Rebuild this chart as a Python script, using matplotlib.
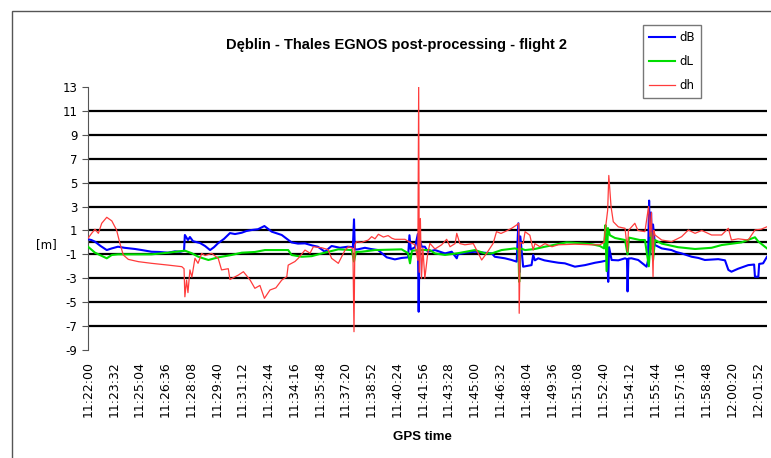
import numpy as np
import matplotlib
matplotlib.use("Agg")
import matplotlib.pyplot as plt
from matplotlib.patches import Rectangle

plt.rcParams["axes.unicode_minus"] = False

# time axis: seconds after 11:22:00, labels every 92 s
t_start = 11 * 3600 + 22 * 60
t_end = 2425
label_step = 92

# dB (blue) - breakpoints
dB_t = [0, 12, 25, 45, 67, 85, 107, 130, 168, 195, 227, 255, 286, 310, 329, 343, 346, 357,
        364, 375, 400, 418, 436, 450, 464, 486, 507, 525, 549, 565, 585, 607, 630, 656,
        692, 727, 750, 775, 800, 821, 846, 870, 900, 928, 946, 950, 953, 964, 989, 1010,
        1036, 1067, 1096, 1120, 1143, 1148, 1153, 1168, 1178, 1181, 1184, 1192, 1203,
        1214, 1239, 1275, 1299, 1317, 1321, 1350, 1382, 1410, 1442, 1453, 1489, 1513,
        1531, 1537, 1541, 1544, 1554, 1584, 1590, 1596, 1608, 1630, 1656, 1680, 1703,
        1739, 1775, 1811, 1834, 1855, 1858, 1861, 1870, 1894, 1918, 1925, 1927, 1930,
        1941, 1965, 1995, 2000, 2004, 2007, 2011, 2014, 2018, 2025, 2049, 2084, 2100,
        2120, 2156, 2180, 2203, 2251, 2275, 2287, 2298, 2322, 2358, 2379, 2382, 2394,
        2397, 2411, 2425]
dB = [0.26, 0.2, 0.06, -0.3, -0.64, -0.5, -0.36, -0.45, -0.55, -0.65, -0.78, -0.8, -0.86,
      -0.75, -0.78, -0.7, 0.62, 0.2, 0.45, 0.1, -0.05, -0.3, -0.64, -0.4, -0.08, 0.3,
      0.78, 0.7, 0.81, 0.95, 1.04, 1.1, 1.37, 0.9, 0.62, 0.0, -0.1, -0.08, -0.25, -0.36,
      -0.78, -0.3, -0.45, -0.36, -0.4, 1.93, -0.6, -0.58, -0.45, -0.55, -0.64, -1.25,
      -1.42, -1.3, -1.25, 0.6, -0.6, -0.4, 0.7, -5.8, 0.3, -0.36, -0.36, -0.78, -0.64,
      -0.92, -0.78, -1.33, -1.0, -0.85, -0.78, -0.85, -0.92, -1.2, -1.33, -1.47, -1.61,
      1.6, -2.5, 0.5, -2.03, -1.9, -1.05, -1.5, -1.33, -1.5, -1.61, -1.7, -1.75, -2.03,
      -1.9, -1.7, -1.61, -1.5, -3.3, -0.4, -1.47, -1.5, -1.33, -1.4, -4.1, -1.35, -1.33,
      -1.47, -2.03, -1.5, 3.5, -1.0, 2.5, -0.5, 1.5, -0.22, -0.5, -0.64, -0.8, -0.92,
      -1.2, -1.3, -1.47, -1.4, -1.5, -2.3, -2.45, -2.2, -1.9, -1.85, -2.87, -2.87, -1.8,
      -1.75, -1.2]

# dL (green)
dL_t = [0, 25, 67, 85, 107, 168, 227, 286, 346, 370, 394, 430, 465, 513, 549, 596, 632,
        715, 727, 763, 799, 835, 894, 942, 950, 957, 977, 1025, 1120, 1143, 1150, 1157,
        1180, 1221, 1239, 1275, 1322, 1382, 1418, 1442, 1477, 1525, 1537, 1540, 1544,
        1561, 1596, 1632, 1679, 1709, 1727, 1799, 1828, 1843, 1848, 1852, 1857, 1864,
        1882, 1918, 1927, 1932, 1971, 1989, 2003, 2011, 2018, 2025, 2049, 2107, 2168,
        2227, 2263, 2334, 2382, 2393, 2425]
dL = [-0.36, -0.86, -1.33, -1.05, -1.0, -1.0, -1.0, -0.86, -0.69, -0.9, -1.2, -1.47,
      -1.25, -1.05, -0.86, -0.8, -0.64, -0.64, -1.05, -1.2, -1.15, -0.92, -0.58, -0.64,
      -1.6, -0.8, -0.78, -0.64, -0.58, -0.9, -1.75, -0.7, -0.64, -0.64, -0.92, -1.05,
      -0.9, -0.64, -0.92, -0.92, -0.64, -0.5, -0.6, -3.3, -0.5, -0.64, -0.55, -0.36,
      -0.14, 0.0, -0.02, -0.15, -0.3, -0.5, 1.45, -2.4, 1.2, 0.6, 0.37, 0.2, -1.0, 0.4,
      0.2, 0.2, -2.0, 0.8, -1.5, 0.2, -0.1, -0.4, -0.55, -0.45, -0.22, 0.0, 0.43, 0.1,
      -0.5]

# dh (red)
dh_t = [0, 13, 25, 37, 49, 67, 85, 102, 114, 126, 144, 180, 227, 287, 335, 343, 346, 352,
        357, 364, 371, 382, 393, 406, 418, 442, 465, 477, 501, 507, 537, 555, 579, 596,
        614, 630, 650, 671, 692, 710, 715, 739, 751, 775, 793, 805, 835, 857, 870, 894,
        906, 918, 930, 946, 950, 953, 959, 977, 1001, 1013, 1025, 1037, 1055, 1072, 1085,
        1096, 1132, 1150, 1168, 1178, 1181, 1183, 1187, 1191, 1196, 1203, 1213, 1221,
        1239, 1263, 1281, 1293, 1311, 1317, 1328, 1346, 1376, 1388, 1406, 1424, 1447,
        1459, 1475, 1489, 1513, 1531, 1538, 1540, 1544, 1554, 1561, 1578, 1590, 1596,
        1614, 1632, 1657, 1679, 1739, 1799, 1828, 1843, 1846, 1856, 1860, 1868, 1876,
        1894, 1918, 1927, 1930, 1953, 1964, 1989, 2002, 2007, 2012, 2018, 2021, 2025,
        2049, 2084, 2120, 2144, 2168, 2192, 2227, 2263, 2287, 2298, 2322, 2358, 2382,
        2404, 2425]
dh = [0.34, 0.76, 1.1, 0.76, 1.6, 2.1, 1.8, 1.04, -0.08, -1.05, -1.42, -1.61, -1.75,
      -1.9, -2.03, -2.2, -4.55, -3.15, -4.2, -2.3, -2.9, -1.33, -1.75, -0.92, -1.1,
      -0.92, -1.33, -2.3, -2.2, -3.1, -2.73, -2.45, -3.15, -3.84, -3.6, -4.68, -3.98,
      -3.8, -3.15, -2.87, -1.9, -1.6, -1.33, -0.64, -0.9, -0.36, -0.45, -0.6, -1.33,
      -1.75, -1.2, -0.64, -0.36, -0.5, -7.47, -0.2, 0.06, 0.0, 0.2, 0.48, 0.3, 0.68,
      0.45, 0.57, 0.35, 0.26, 0.26, 0.0, -0.2, -1.5, 13.0, -2.5, 2.0, -3.0, -0.5, -3.0,
      -1.0, -0.08, -0.55, -0.2, 0.26, -0.36, -0.1, 0.76, -0.1, -0.2, -0.1, -0.64, -1.47,
      -0.9, -0.08, 0.9, 0.75, 0.9, 1.18, 1.46, 1.6, -5.93, 0.0, -0.1, 0.9, 0.6, -0.64,
      -0.1, -0.36, -0.1, -0.36, -0.2, -0.15, -0.2, -0.2, 0.0, 0.76, 2.7, 5.6, 3.0, 1.73,
      1.3, 1.18, -0.78, 1.0, 1.6, 1.0, 0.9, 3.0, 0.5, 2.5, -2.87, 1.0, 0.62, 0.2, 0.06,
      0.48, 1.04, 0.76, 1.0, 0.62, 0.62, 1.18, 0.2, 0.3, 0.2, 1.04, 1.1, 1.31]


def hms(s):
    s = t_start + s
    return "%02d:%02d:%02d" % (s // 3600, (s % 3600) // 60, s % 60)


fig = plt.figure(figsize=(7.71, 4.58), dpi=100)
ax = fig.add_axes([88 / 771, 1 - 350 / 458, 679 / 771, 263 / 458])

for y in range(-7, 13, 2):
    ax.axhline(y, color="black", lw=1.6, zorder=1)
ax.axhline(0, color="black", lw=1.6, zorder=1)

ax.plot(dB_t, dB, color="#0000ff", lw=1.5, label="dB", zorder=3)
ax.plot(dL_t, dL, color="#00dd00", lw=1.5, label="dL", zorder=3)
ax.plot(dh_t, dh, color="#ff3b3b", lw=0.9, label="dh", zorder=4)

ax.set_xlim(0, t_end)
ax.set_ylim(-9, 13)
ax.set_yticks(range(-9, 14, 2))
ticks = np.arange(0, t_end, label_step)
ax.set_xticks(ticks)
ax.set_xticklabels([hms(int(s)) for s in ticks], rotation=90, fontsize=9)
ax.tick_params(axis="x", length=0, pad=8)
ax.tick_params(axis="y", labelsize=8.5, length=4, color="#555555")

for side in ["top", "right", "bottom"]:
    ax.spines[side].set_visible(False)
ax.spines["left"].set_color("#555555")

fig.text(0.06, 1 - 245 / 458, "[m]", fontsize=8.5, va="center", ha="center")
fig.text(422 / 771, 1 - 437 / 458, "GPS time", fontsize=9.5, fontweight="bold",
         family="Liberation Sans", ha="center", va="center")
fig.text(397 / 771, 1 - 45 / 458, "D\u0119blin - Thales EGNOS post-processing - flight 2",
         fontsize=10.5, fontweight="bold", family="Liberation Sans", ha="center", va="center")

leg = fig.legend(loc="upper left", bbox_to_anchor=(637 / 771, 1 - 19 / 458), fontsize=8.5,
                 frameon=True, fancybox=False, edgecolor="#555555", handlelength=2.2,
                 borderpad=0.5, labelspacing=0.95, handletextpad=0.4)
leg.get_frame().set_linewidth(1.0)

fig.patches.append(Rectangle((12 / 771, -0.01), 1.0, 1 - 11 / 458 + 0.01,
                             transform=fig.transFigure, fill=False,
                             edgecolor="#555555", lw=1.0))

fig.savefig("out.png", dpi=100)
